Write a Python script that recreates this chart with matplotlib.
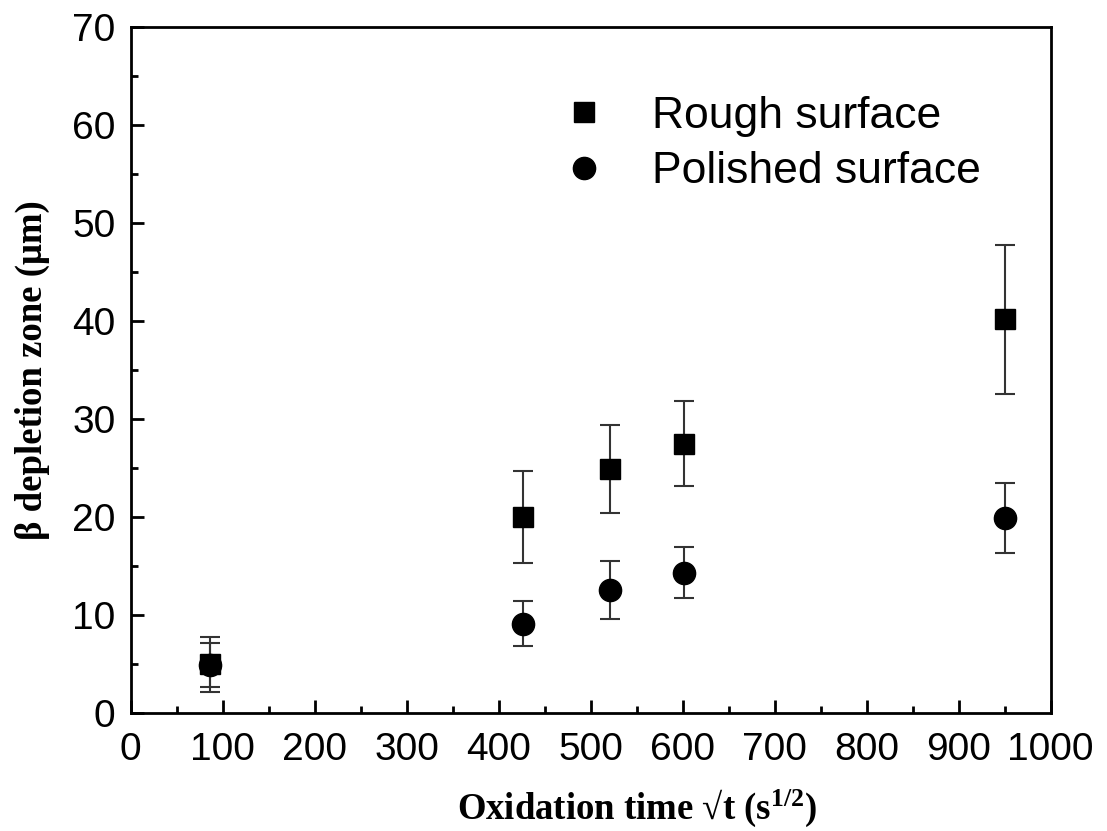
import matplotlib
matplotlib.use("Agg")
import matplotlib.pyplot as plt
from matplotlib.lines import Line2D
from matplotlib.ticker import MultipleLocator

plt.rcParams["mathtext.fontset"] = "custom"
plt.rcParams["mathtext.rm"] = "Liberation Serif:bold"
plt.rcParams["mathtext.bf"] = "Liberation Serif:bold"
plt.rcParams["mathtext.it"] = "Liberation Serif:bold"

# data
x_time = [86, 426, 521, 602, 950]
rough = [4.95, 20.0, 24.9, 27.5, 40.2]
rough_err = [2.8, 4.7, 4.5, 4.3, 7.6]
polished = [4.9, 9.1, 12.55, 14.3, 19.9]
polished_err = [2.2, 2.3, 3.0, 2.6, 3.6]
labels = ["Rough surface", "Polished surface"]

fig = plt.figure(figsize=(11.07, 8.31), dpi=100)
ax = fig.add_axes([0.118, 0.142, 0.831, 0.8255])

ax.errorbar(x_time, rough, yerr=rough_err, fmt="s", color="black", ms=14.5,
            ecolor="#333333", elinewidth=1.5, capsize=7, capthick=1.5, zorder=3)
ax.errorbar(x_time, polished, yerr=polished_err, fmt="o", color="black", ms=16,
            ecolor="#333333", elinewidth=1.5, capsize=7, capthick=1.5, zorder=3)

ax.set_xlim(0, 1000)
ax.set_ylim(0, 70)
ax.xaxis.set_major_locator(MultipleLocator(100))
ax.xaxis.set_minor_locator(MultipleLocator(50))
ax.yaxis.set_major_locator(MultipleLocator(10))
ax.yaxis.set_minor_locator(MultipleLocator(5))
ax.tick_params(which="both", direction="in", top=False, right=False, width=2)
ax.tick_params(which="major", length=9.5, labelsize=28)
ax.tick_params(axis="x", which="major", pad=14)
ax.tick_params(axis="y", which="major", pad=11)
ax.tick_params(which="minor", length=5)
for lab in ax.get_xticklabels() + ax.get_yticklabels():
    lab.set_family("Liberation Sans")
for s in ax.spines.values():
    s.set_linewidth(2)

ax.set_xlabel("Oxidation time √t (s$^{1/2}$)", family="Liberation Serif",
              fontweight="bold", fontsize=26.5, labelpad=14)
ax.xaxis.label.set_x(0.55)
ax.set_ylabel("β depletion zone (μm)", family="Liberation Serif",
              fontweight="bold", fontsize=26.5, labelpad=16)

handles = [Line2D([], [], ls="none", marker="s", color="black", ms=14.5),
           Line2D([], [], ls="none", marker="o", color="black", ms=16)]
ax.legend(handles, labels, loc="upper left", bbox_to_anchor=(0.469, 0.90),
          frameon=False, prop={"family": "Liberation Sans", "size": 32},
          handletextpad=1.03, labelspacing=0.33, handlelength=1.0,
          borderpad=0, borderaxespad=0)

fig.savefig("out.png", dpi=100)
